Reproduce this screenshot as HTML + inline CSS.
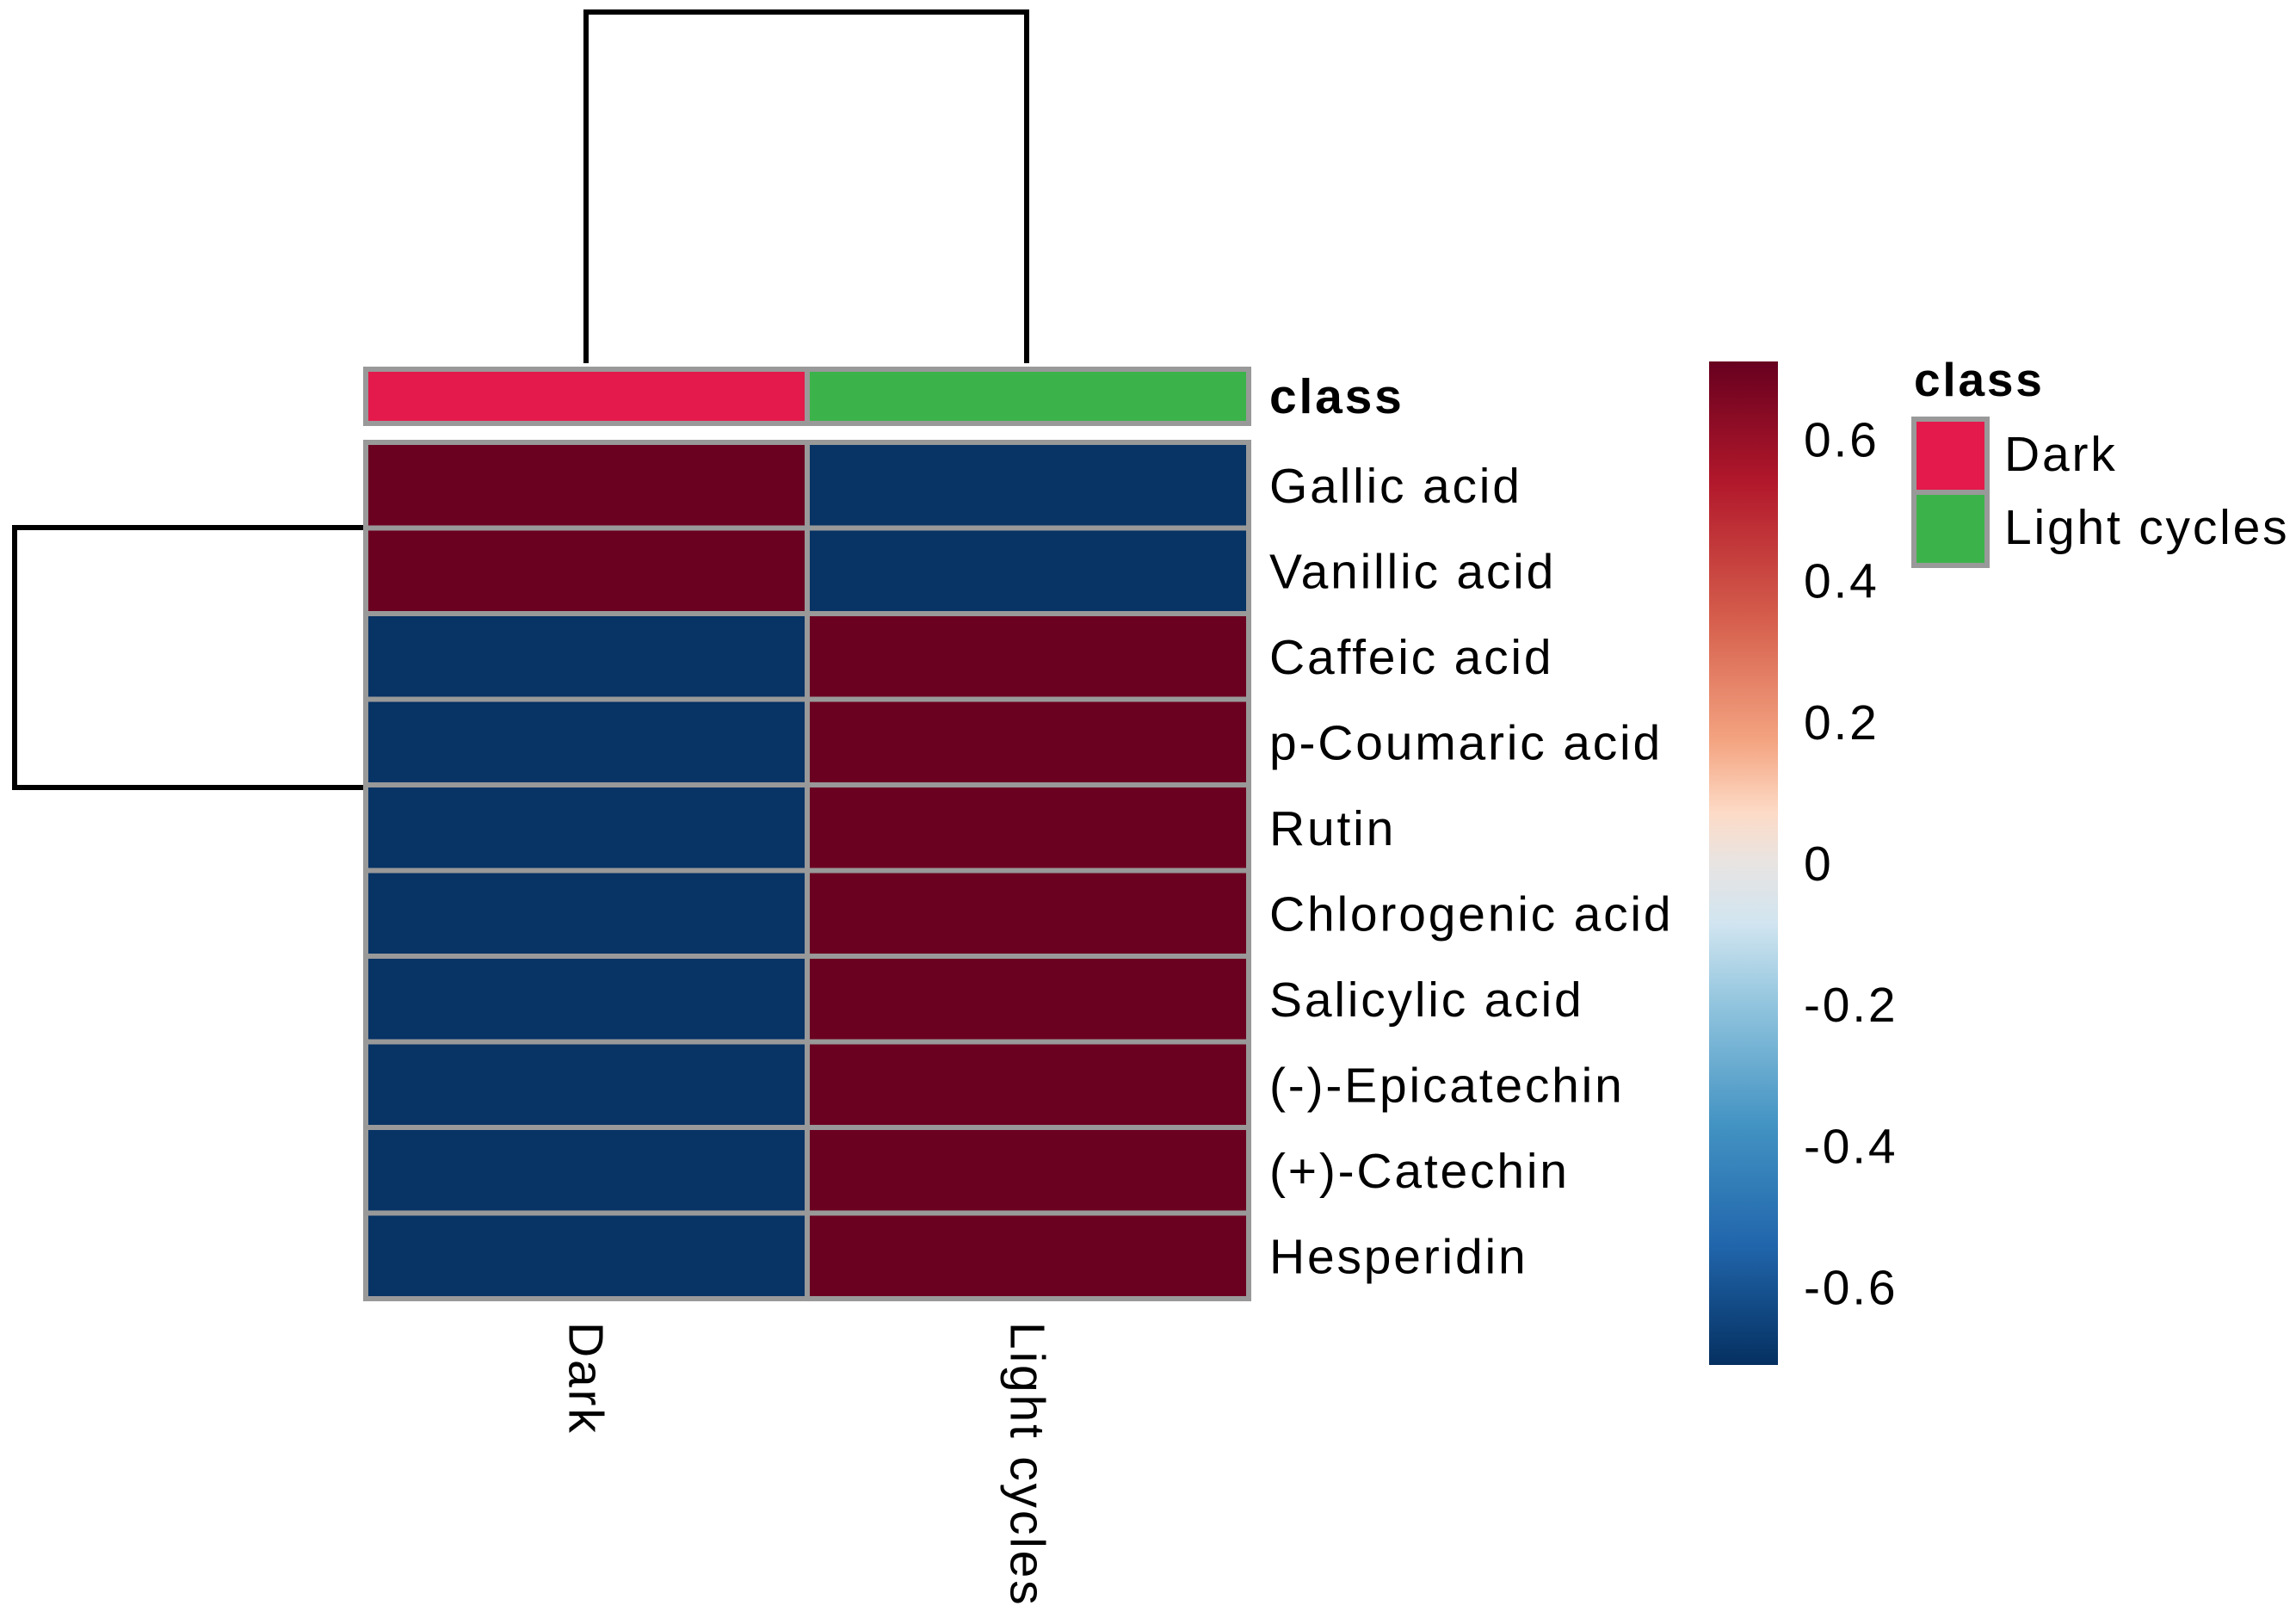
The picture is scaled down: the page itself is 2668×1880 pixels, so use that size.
<!DOCTYPE html>
<html><head><meta charset="utf-8"><style>
body{margin:0;background:#fff;}
svg text{font-family:"Liberation Sans",sans-serif;fill:#000;letter-spacing:2.8px;}
</style></head><body>
<svg id="c" width="2668" height="1875" xmlns="http://www.w3.org/2000/svg">
<defs><linearGradient id="g" x1="0" y1="0" x2="0" y2="1">
<stop offset="0" stop-color="#67001f"/><stop offset="0.12" stop-color="#b2182b"/><stop offset="0.26" stop-color="#d6604d"/><stop offset="0.38" stop-color="#f4a582"/><stop offset="0.45" stop-color="#fddbc7"/><stop offset="0.5" stop-color="#e8e4e2"/><stop offset="0.56" stop-color="#d1e5f0"/><stop offset="0.64" stop-color="#92c5de"/><stop offset="0.76" stop-color="#4393c3"/><stop offset="0.88" stop-color="#2166ac"/><stop offset="1" stop-color="#053061"/></linearGradient></defs>
<g id="dendro" stroke="#000" stroke-width="6" fill="none">
<path d="M681 422 V14 H1193 V422"/>
<path d="M422 613 H17 V915 H422"/>
</g>
<g id="cells"></g>
<g id="ann"></g>
<rect x="1986" y="420" width="80" height="1166" fill="url(#g)"/>
<g id="ticks"></g>
<text x="2224" y="460" font-size="55" font-weight="bold">class</text>
<rect x="2224" y="487" width="85" height="85" fill="#e31a4b" stroke="#999" stroke-width="6"/>
<rect x="2224" y="572" width="85" height="85" fill="#3cb34a" stroke="#999" stroke-width="6"/>
<text x="2329" y="547" font-size="57">Dark</text>
<text x="2329" y="632" font-size="57">Light cycles</text>
</svg>
<script>
const rows=["Gallic acid","Vanillic acid","Caffeic acid","p-Coumaric acid","Rutin","Chlorogenic acid","Salicylic acid","(-)-Epicatechin","(+)-Catechin","Hesperidin"];
const cols=["Dark","Light cycles"];
const darkVals=[0.7,0.7,-0.7,-0.7,-0.7,-0.7,-0.7,-0.7,-0.7,-0.7];
const lightVals=[-0.7,-0.7,0.7,0.7,0.7,0.7,0.7,0.7,0.7,0.7];
const classColors=["#e31a4b","#3cb34a"];
const ticks=[0.6,0.4,0.2,0,-0.2,-0.4,-0.6];
const NS="http://www.w3.org/2000/svg";
const X0=425,X1=1451,Y0=514,Y1=1509;
const cw=(X1-X0)/cols.length, rh=(Y1-Y0)/rows.length;
const xs=i=>X0+i*cw, ys=j=>Y0+j*rh;
const cbTop=420,cbBot=1586,vmax=0.71;
const cy=v=>cbTop+(vmax-v)/(2*vmax)*(cbBot-cbTop);
function lerp(a,b,t){return a+(b-a)*t;}
const stops=[[0,[103,0,31]],[0.12,[178,24,43]],[0.26,[214,96,77]],[0.38,[244,165,130]],[0.45,[253,219,199]],[0.5,[232,228,226]],[0.56,[209,229,240]],[0.64,[146,197,222]],[0.76,[67,147,195]],[0.88,[33,102,172]],[1,[5,48,97]]];
function col(v){let t=(vmax-v)/(2*vmax);t=Math.max(0,Math.min(1,t));for(let k=1;k<stops.length;k++){if(t<=stops[k][0]){const a=stops[k-1],b=stops[k],u=(t-a[0])/(b[0]-a[0]);return`rgb(${a[1].map((c,i)=>Math.round(lerp(c,b[1][i],u))).join(',')})`;}}return'rgb(5,48,97)';}
const cells=document.getElementById('cells');
const series=[darkVals,lightVals];
series.forEach((vals,i)=>vals.forEach((v,j)=>{
const r=document.createElementNS(NS,'rect');
r.setAttribute('x',xs(i));r.setAttribute('y',ys(j));r.setAttribute('width',cw);r.setAttribute('height',rh);
r.setAttribute('fill',col(v));r.setAttribute('stroke','#999');r.setAttribute('stroke-width','6');


cells.appendChild(r);
}));
rows.forEach((n,j)=>{
const t=document.createElementNS(NS,'text');
t.setAttribute('x',1475);t.setAttribute('y',ys(j)+rh/2+20);t.setAttribute('font-size','57');t.textContent=n;


cells.appendChild(t);
});
const ann=document.getElementById('ann');
cols.forEach((n,i)=>{
const r=document.createElementNS(NS,'rect');
r.setAttribute('x',xs(i));r.setAttribute('y',429);r.setAttribute('width',cw);r.setAttribute('height',63);
r.setAttribute('fill',classColors[i]);r.setAttribute('stroke','#999');r.setAttribute('stroke-width','6');


ann.appendChild(r);
const t=document.createElementNS(NS,'text');
const cx=xs(i)+cw/2-20;
t.setAttribute('x',cx);t.setAttribute('y',1536);t.setAttribute('font-size','57');
t.setAttribute('transform',`rotate(90 ${cx} 1536)`);t.textContent=n;


ann.appendChild(t);
});
const at=document.createElementNS(NS,'text');
at.setAttribute('x',1475);at.setAttribute('y',480);at.setAttribute('font-size','57');at.setAttribute('font-weight','bold');at.textContent='class';


ann.appendChild(at);
const tg=document.getElementById('ticks');
ticks.forEach(v=>{
const t=document.createElementNS(NS,'text');
t.setAttribute('x',2096);t.setAttribute('y',cy(v)+20);t.setAttribute('font-size','57');t.textContent=String(v);


tg.appendChild(t);
});
</script>
</body></html>
